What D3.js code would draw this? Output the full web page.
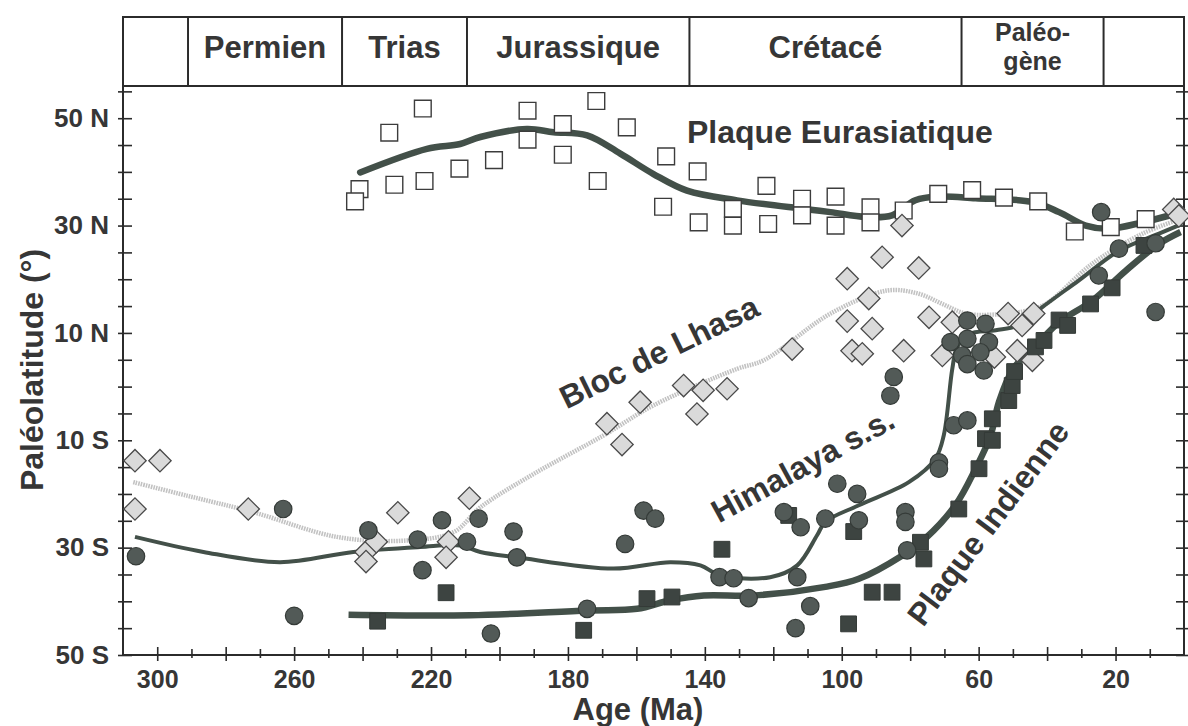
<!DOCTYPE html>
<html>
<head>
<meta charset="utf-8">
<script src="https://cdn.jsdelivr.net/npm/d3@7"></script>
<style>
  body { margin: 0; background: #fff; }
  text { font-family: "Liberation Sans", Arial, Helvetica, sans-serif; font-weight: bold; fill: #363636; }
</style>
</head>
<body>
<div id="chart"></div>
<script>
// periods (age of boundaries, Ma)
var periodBounds = [310, 291, 246, 209.5, 144.5, 65, 23.5, 0];
var periodNames = ["", "Permien", "Trias", "Jurassique", "Crétacé", "Paléo-|gène", ""];

var xTicks = d3.range(10, 301, 10);
var xLabels = [300, 260, 220, 180, 140, 100, 60, 20];
var yTicks = d3.range(-50, 56, 5);
var yLabels = [50, 30, 10, -10, -30, -50];

// Plaque Eurasiatique : points [age, lat]
var eurasiePts = [[240.9,36.8],[242.2,34.5],[232.2,47.3],[230.7,37.6],[222.4,51.8],[221.9,38.3],[211.7,40.6],
  [201.6,42.2],[191.8,51.4],[191.8,46.0],[181.5,48.9],[181.5,43.2],[171.7,53.2],[171.3,38.3],[162.8,48.3],
  [151.3,42.9],[152.2,33.5],[142.1,40.1],[141.8,30.6],[131.8,33.1],[131.8,30.0],[122,37.4],[121.5,30.3],
  [111.6,35.0],[111.6,31.9],[101.8,35.4],[101.8,30.0],[91.6,33.4],[91.6,30.6],[81.9,32.8],[71.8,35.9],
  [61.9,36.6],[52.6,35.2],[42.6,34.5],[31.9,28.9],[21.4,29.7],[11.2,31.2]];
var eurasieCourbe = [[240.7,39.9],[221.2,44.3],[211.5,45.2],[205.6,46.5],[192,48.0],[184.2,47.4],[174.4,46.8],
  [164.7,43.4],[155,39.6],[145.2,36.5],[130.6,34.7],[111.1,33.1],[103.3,32.5],[93,31.6],[85.3,31.9],
  [78.5,34.7],[71.6,35.4],[60.9,35.1],[44.3,34.4],[36.5,32.5],[28.7,30.0],[21.9,29.4],[12.1,30.6],[2.4,32.2]];

// Bloc de Lhasa
var lhasaPts = [[306.5,-13.8],[299.2,-13.8],[306.5,-22.8],[273.4,-22.8],[239,-30.8],[239,-32.6],[236,-28.9],
  [229.7,-23.5],[214.9,-28.9],[215.6,-31.8],[208.8,-20.8],[168.6,-6.9],[164.2,-10.8],[158.9,-2.9],[146.2,0.2],
  [142.3,-5.1],[140.5,-0.7],[133.5,-0.4],[114.5,7.0],[98.4,20.1],[98.4,12.2],[97,6.7],[94,6.1],[92.1,16.4],
  [91.1,10.8],[88.2,24.1],[82.4,30.0],[81.9,6.7],[77.5,22.1],[74.5,12.9],[70.6,5.8],[67.7,12.0],[55.4,5.5],
  [51.4,13.6],[48.7,6.7],[47.3,11.4],[44.3,4.9],[43.9,13.6],[3,33],[1.5,31.8]];
var lhasaCourbe = [[307,-17.8],[291.4,-20.3],[271.9,-23.4],[247.5,-28.0],[228,-28.7],[213.4,-27.1],[205.6,-22.5],
  [189,-15.9],[169.6,-9.1],[155,-3.5],[130.6,3.3],[122.8,4.9],[103.3,13.6],[86.7,17.9],[77.5,17.3],[70.6,15.4],
  [63.8,13.6],[56,13.4],[47,14.0],[40.4,15.4],[26.8,22.9],[12.1,28.5],[2.4,30.9]];

// Himalaya s.s.
var himalayaPts = [[306.2,-31.6],[263.2,-22.8],[260,-42.7],[238.3,-26.8],[223.9,-28.5],[222.5,-34.2],[216.8,-24.9],
  [209.5,-28.9],[206.1,-24.6],[195.9,-27],[194.9,-31.8],[157.9,-23.1],[154.5,-24.6],[163.3,-29.3],[174.4,-41.4],
  [202.5,-46.0],[135.7,-35.5],[131.6,-35.7],[116.9,-23.4],[112,-26.2],[104.8,-24.6],[113,-35.5],[127.2,-39.4],
  [109.2,-40.9],[113.5,-45],[84.8,1.8],[85.8,-1.7],[67.3,-7.2],[63.3,-6.3],[71.6,-14.1],[71.6,-15.3],
  [101.3,-18.1],[95.5,-20.0],[95,-24.9],[81.4,-23.4],[81.4,-25.2],[80.9,-30.5],[24.2,32.5],[8.3,13.9],
  [8.3,26.7],[19,25.7],[24.9,20.7],[63.3,12.3],[58,11.7],[68.2,8.3],[63.3,8.9],[57,8.3],[64.8,5.8],
  [59.5,6.4],[63.3,4.2],[58.5,3.0]];
var himalayaCourbe = [[306.5,-28.0],[286.5,-30.8],[264.1,-32.7],[242.7,-30.8],[223.2,-29.9],[211.5,-29.6],
  [205.6,-30.8],[194.9,-31.8],[166.7,-33.9],[150.1,-32.7],[141.3,-33.3],[135.5,-35.2],[120.9,-35.5],[113,-33.3],
  [107.2,-27.7],[104.8,-25.2],[95,-22.1],[80.4,-17.8],[72.6,-13.4],[70.2,-9.1],[67.7,3.3],[66.3,7.3],
  [62.8,9.8],[55,10.5],[48,11.5],[41.4,14.8],[30.7,19.8],[19,25.3],[7.3,28.5],[0.5,30.3]];

// Plaque Indienne
var indePts = [[235.6,-43.7],[215.6,-38.4],[175.4,-45.4],[156.9,-39.5],[149.6,-39.2],[135,-30.3],[115.5,-24.0],
  [98,-44.2],[96.5,-27.0],[91.1,-38.3],[85.3,-38.3],[77,-29],[76,-32.1],[65.8,-22.8],[59.9,-15.3],[58,-9.7],
  [56,-10],[56,-6.0],[51.2,-2.6],[50.2,0.2],[49.5,2.8],[43.4,7.4],[40.9,8.6],[36.5,12.4],[34,11.4],
  [27.3,15.4],[21,18.4],[11.7,26.3]];
var indeCourbe = [[244.1,-42.5],[208.6,-42.6],[174.4,-41.7],[159.8,-41.4],[150.1,-39.8],[140.3,-38.9],
  [125.7,-38.9],[104.8,-37.3],[95,-35.8],[82.4,-31.5],[75.6,-28.3],[66.8,-22.1],[60.9,-15.3],[56.5,-9.1],
  [54.1,-2.9],[50,3.2],[42.3,8.3],[36.5,12.0],[26.8,16.0],[17,21.6],[7.3,26.6],[1,28.8]];

var W = 1188, H = 726;
var svg = d3.select("#chart").append("svg").attr("width", W).attr("height", H);

var x = d3.scaleLinear().domain([310, 0]).range([123, 1184]);
var y = d3.scaleLinear().domain([-50, 56]).range([655, 86]);

var ink = "#2b2b2b";
var dark = "#435049";

// bande des périodes
var band = svg.append("g").attr("class", "periodes");
band.append("rect")
    .attr("x", x(310)).attr("y", 17)
    .attr("width", x(0) - x(310)).attr("height", 86 - 17)
    .style("fill", "none").style("stroke", ink).style("stroke-width", 2);
band.selectAll("line")
    .data(periodBounds.slice(1, -1))
    .enter()
    .append("line")
    .attr("x1", d => x(d)).attr("x2", d => x(d))
    .attr("y1", 17).attr("y2", 86)
    .style("stroke", ink).style("stroke-width", 2);
periodNames.forEach(function (name, i) {
    if (!name) return;
    var cx = (x(periodBounds[i]) + x(periodBounds[i + 1])) / 2;
    var parts = name.split("|");
    if (parts.length == 1) {
        band.append("text").attr("text-anchor", "middle").style("font-size", "31px")
            .attr("x", cx).attr("y", 58).text(name);
    } else {
        band.append("text").attr("text-anchor", "middle").style("font-size", "25px")
            .attr("x", cx).attr("y", 41).text(parts[0]);
        band.append("text").attr("text-anchor", "middle").style("font-size", "25px")
            .attr("x", cx).attr("y", 70).text(parts[1]);
    }
});

// cadre
svg.append("rect")
    .attr("x", x(310)).attr("y", y(56))
    .attr("width", x(0) - x(310)).attr("height", y(-50) - y(56))
    .style("fill", "none").style("stroke", ink).style("stroke-width", 2);

// axes
var xAxis = d3.axisBottom(x).tickValues(xTicks)
    .tickFormat(d => xLabels.indexOf(d) >= 0 ? d : "").tickSize(0).tickPadding(15);
var gx = svg.append("g").attr("transform", "translate(0," + y(-50) + ")").call(xAxis);
gx.select(".domain").remove();
gx.selectAll(".tick line")
    .attr("y1", d => d % 20 == 0 ? -8 : -6)
    .attr("y2", d => d % 20 == 0 ? 6 : 3)
    .style("stroke", ink).style("stroke-width", 1.6);
gx.selectAll(".tick text").style("font-size", "25px").style("fill", "#363636").attr("font-family", null);

var yAxis = d3.axisLeft(y).tickValues(yTicks)
    .tickFormat(d => yLabels.indexOf(d) >= 0 ? Math.abs(d) + (d > 0 ? " N" : " S") : "")
    .tickSize(0).tickPadding(14);
var gy = svg.append("g").attr("transform", "translate(" + x(310) + ",0)").call(yAxis);
gy.select(".domain").remove();
gy.selectAll(".tick line").attr("x1", -5).attr("x2", 9).style("stroke", ink).style("stroke-width", 1.6);
gy.selectAll(".tick text").style("font-size", "26px").style("fill", "#363636").attr("font-family", null);

var gyr = svg.append("g").attr("transform", "translate(" + x(0) + ",0)")
    .call(d3.axisRight(y).tickValues(yTicks).tickFormat("").tickSize(0));
gyr.select(".domain").remove();
gyr.selectAll(".tick line").attr("x1", -8).attr("x2", 6).style("stroke", ink).style("stroke-width", 1.6);

svg.append("text").attr("x", 638).attr("y", 720).attr("text-anchor", "middle")
    .style("font-size", "31px").text("Age (Ma)");
svg.append("text").attr("transform", "translate(43,370) rotate(-90)").attr("text-anchor", "middle")
    .style("font-size", "32px").text("Paléolatitude (°)");

// courbes
var lineGenerator = d3.line().x(d => x(d[0])).y(d => y(d[1])).curve(d3.curveCatmullRom.alpha(0.5));

svg.append("path").attr("d", lineGenerator(lhasaCourbe))
    .style("fill", "none").style("stroke", "#c2c2c2").style("stroke-width", 4.5)
    .style("stroke-dasharray", "1.6,1");
svg.append("path").attr("d", lineGenerator(eurasieCourbe))
    .style("fill", "none").style("stroke", dark).style("stroke-width", 6.5).style("stroke-linecap", "round");
svg.append("path").attr("d", lineGenerator(indeCourbe))
    .style("fill", "none").style("stroke", dark).style("stroke-width", 6.5);
svg.append("path").attr("d", lineGenerator(himalayaCourbe))
    .style("fill", "none").style("stroke", dark).style("stroke-width", 4);

// symboles
function drawPoints(data, type, size, rot, fill, stroke, sw) {
    svg.append("g").selectAll("path")
       .data(data)
       .enter()
       .append("path")
       .attr("d", d3.symbol().type(type).size(size))
       .attr("transform", d => "translate(" + x(d[0]) + "," + y(d[1]) + ") rotate(" + rot + ")")
       .style("fill", fill).style("stroke", stroke).style("stroke-width", sw);
}
drawPoints(eurasiePts, d3.symbolSquare, 280, 0, "#fff", "#3c3c3c", 1.4);
drawPoints(lhasaPts, d3.symbolSquare, 250, 45, "#dadada", "#4a4a4a", 1.3);
drawPoints(indePts, d3.symbolSquare, 250, 0, "#3d4441", "#343a37", 1);
drawPoints(himalayaPts, d3.symbolCircle, 240, 0, "#525a57", "#353b38", 1.2);

// étiquettes
svg.append("text").attr("x", 687).attr("y", 143).style("font-size", "32px").text("Plaque Eurasiatique");
svg.append("text").attr("transform", "translate(664,362) rotate(-26)").attr("text-anchor", "middle")
    .style("font-size", "32px").text("Bloc de Lhasa");
svg.append("text").attr("transform", "translate(808,475) rotate(-28.6)").attr("text-anchor", "middle")
    .style("font-size", "32px").text("Himalaya s.s.");
svg.append("text").attr("transform", "translate(997,530) rotate(-53)").attr("text-anchor", "middle")
    .style("font-size", "32px").text("Plaque Indienne");
</script>
</body>
</html>
